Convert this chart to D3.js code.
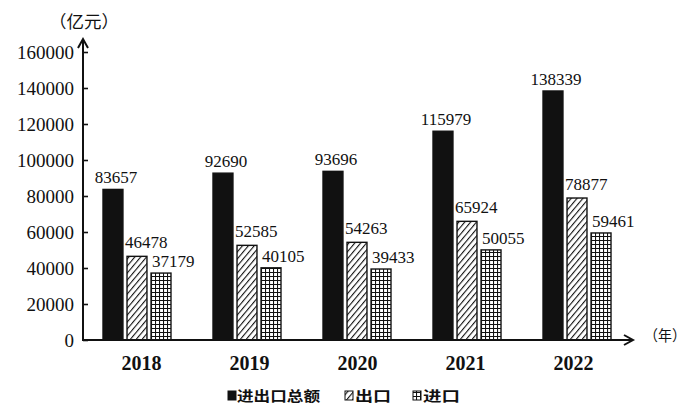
<!DOCTYPE html>
<html>
<head>
<meta charset="utf-8">
<script src="https://cdn.jsdelivr.net/npm/d3@7"></script>
<style>
  body { margin: 0; background: #fff; }
  svg { display: block; }
  text.serif, .tick text { font-family: "Liberation Serif", "DejaVu Serif", "Times New Roman", serif !important; fill: #111; }
  text.cjk { font-family: "Noto Sans CJK SC", sans-serif; fill: #111; }
</style>
</head>
<body>
<div id="chart"></div>
<script>
// data
var years = ["2018", "2019", "2020", "2021", "2022"];
var totalTrade = [83657, 92690, 93696, 115979, 138339];
var exportVals = [46478, 52585, 54263, 65924, 78877];
var importVals = [37179, 40105, 39433, 50055, 59461];
var seriesNames = ["进出口总额", "出口", "进口"];
var yTicks = [0, 20000, 40000, 60000, 80000, 100000, 120000, 140000, 160000];

function TradeChart() {
  var svgWidth = 690;
  var svgHeight = 406;

  var svg = d3.select("#chart")
    .append("svg")
    .attr("width", svgWidth)
    .attr("height", svgHeight);

  // patterns for the hatched (export) and grid (import) bars
  var defs = svg.append("defs");
  var hatch = defs.append("pattern")
    .attr("id", "hatch")
    .attr("patternUnits", "userSpaceOnUse")
    .attr("width", 4.5)
    .attr("height", 4.5)
    .attr("patternTransform", "rotate(40)");
  hatch.append("rect").attr("width", 4.5).attr("height", 4.5).attr("fill", "#fff");
  hatch.append("line")
    .attr("x1", 0).attr("y1", 0).attr("x2", 0).attr("y2", 4.5)
    .attr("stroke", "#111").attr("stroke-width", 2.2);

  var grid = defs.append("pattern")
    .attr("id", "grid")
    .attr("patternUnits", "userSpaceOnUse")
    .attr("width", 4)
    .attr("height", 4);
  grid.append("rect").attr("width", 4).attr("height", 4).attr("fill", "#fff");
  grid.append("path")
    .attr("d", "M0,0.5H4M0.5,0V4")
    .attr("stroke", "#111").attr("stroke-width", 1.1)
    .attr("fill", "none");

  var fills = ["#111", "url(#hatch)", "url(#grid)"];

  // scales
  var y = d3.scaleLinear()
    .domain([0, 160000])
    .range([340, 52]);

  var x0 = d3.scaleBand()
    .domain(years)
    .range([103, 611])
    .paddingInner(0.382)
    .paddingOuter(0);

  var x1 = d3.scaleBand()
    .domain([0, 1, 2])
    .range([0, x0.bandwidth()])
    .paddingInner(0.17);

  // year labels sit on their own point scale
  var xLabel = d3.scalePoint()
    .domain(years)
    .range([141, 573]);

  var rows = years.map(function(yr, i) {
    return { year: yr, values: [totalTrade[i], exportVals[i], importVals[i]] };
  });

  // bars
  var groups = svg.selectAll("g.year")
    .data(rows)
    .enter()
    .append("g")
    .attr("class", "year")
    .attr("transform", d => `translate(${x0(d.year)},0)`);

  groups.selectAll("rect")
    .data(d => d.values.map((v, k) => ({ k: k, v: v })))
    .enter()
    .append("rect")
    .attr("x", d => x1(d.k))
    .attr("y", d => y(d.v))
    .attr("width", x1.bandwidth())
    .attr("height", d => y(0) - y(d.v))
    .attr("fill", d => fills[d.k])
    .attr("stroke", "#111")
    .attr("stroke-width", 1.4);

  // value labels
  groups.selectAll("text.val")
    .data(d => d.values.map((v, k) => ({ k: k, v: v })))
    .enter()
    .append("text")
    .attr("class", "val serif")
    .attr("x", function(d) {
      if (d.k === 0) return x1(d.k) + x1.bandwidth() / 2 + 3;
      if (d.k === 1) return x1(d.k) - 2;
      return x1(d.k) + 1;
    })
    .attr("y", d => y(d.v) - (d.k === 1 ? 8 : 6))
    .attr("text-anchor", d => d.k === 0 ? "middle" : "start")
    .attr("font-size", "17px")
    .text(d => d.v);

  // y axis
  var yAxis = d3.axisLeft(y)
    .tickValues(yTicks)
    .tickSizeInner(-5)
    .tickSizeOuter(0)
    .tickPadding(9)
    .tickFormat(d3.format("d"));

  var yG = svg.append("g")
    .attr("transform", "translate(83,0)")
    .call(yAxis);
  yG.select(".domain").remove();
  yG.selectAll(".tick line").attr("stroke", "#111").attr("stroke-width", 1.6);
  yG.selectAll(".tick text")
    .attr("font-size", "19px")
    .attr("fill", "#111");

  // x axis labels
  var xAxis = d3.axisBottom(xLabel)
    .tickSize(0)
    .tickPadding(16);
  var xG = svg.append("g")
    .attr("transform", "translate(0,340)")
    .call(xAxis);
  xG.select(".domain").remove();
  xG.selectAll(".tick text")
    .attr("font-size", "20px")
    .attr("font-weight", "bold")
    .attr("fill", "#111");

  // axis lines with arrows
  svg.append("path")
    .attr("d", "M83,341V40M78,48L83,39L88,48")
    .attr("fill", "none")
    .attr("stroke", "#111")
    .attr("stroke-width", 2);
  svg.append("path")
    .attr("d", "M82,340H632M624,335L633,340L624,345")
    .attr("fill", "none")
    .attr("stroke", "#111")
    .attr("stroke-width", 2);

  // unit labels
  svg.append("text")
    .attr("class", "cjk")
    .attr("x", 49)
    .attr("y", 28)
    .attr("font-size", "17px")
    .text("（亿元）")
    .attr("textLength", 70)
    .attr("lengthAdjust", "spacingAndGlyphs");

  svg.append("text")
    .attr("class", "cjk")
    .attr("x", 644)
    .attr("y", 341)
    .attr("font-size", "15px")
    .text("（年）")
    .attr("textLength", 42)
    .attr("lengthAdjust", "spacingAndGlyphs");

  // legend
  var legendPos = [
    { sx: 228, tx: 237, w: 83 },
    { sx: 345, tx: 355, w: 36 },
    { sx: 413, tx: 423, w: 37 }
  ];
  var legend = svg.selectAll("g.legend")
    .data(seriesNames)
    .enter()
    .append("g")
    .attr("class", "legend");

  legend.append("rect")
    .attr("x", (d, i) => legendPos[i].sx)
    .attr("y", 391)
    .attr("width", 8)
    .attr("height", 9)
    .attr("fill", (d, i) => fills[i])
    .attr("stroke", "#111")
    .attr("stroke-width", 1);

  legend.append("text")
    .attr("class", "cjk")
    .attr("x", (d, i) => legendPos[i].tx)
    .attr("y", 401)
    .attr("font-size", "14px")
    .attr("font-weight", "bold")
    .attr("textLength", (d, i) => legendPos[i].w)
    .attr("lengthAdjust", "spacingAndGlyphs")
    .text(d => d);
}

TradeChart();
</script>
</body>
</html>
